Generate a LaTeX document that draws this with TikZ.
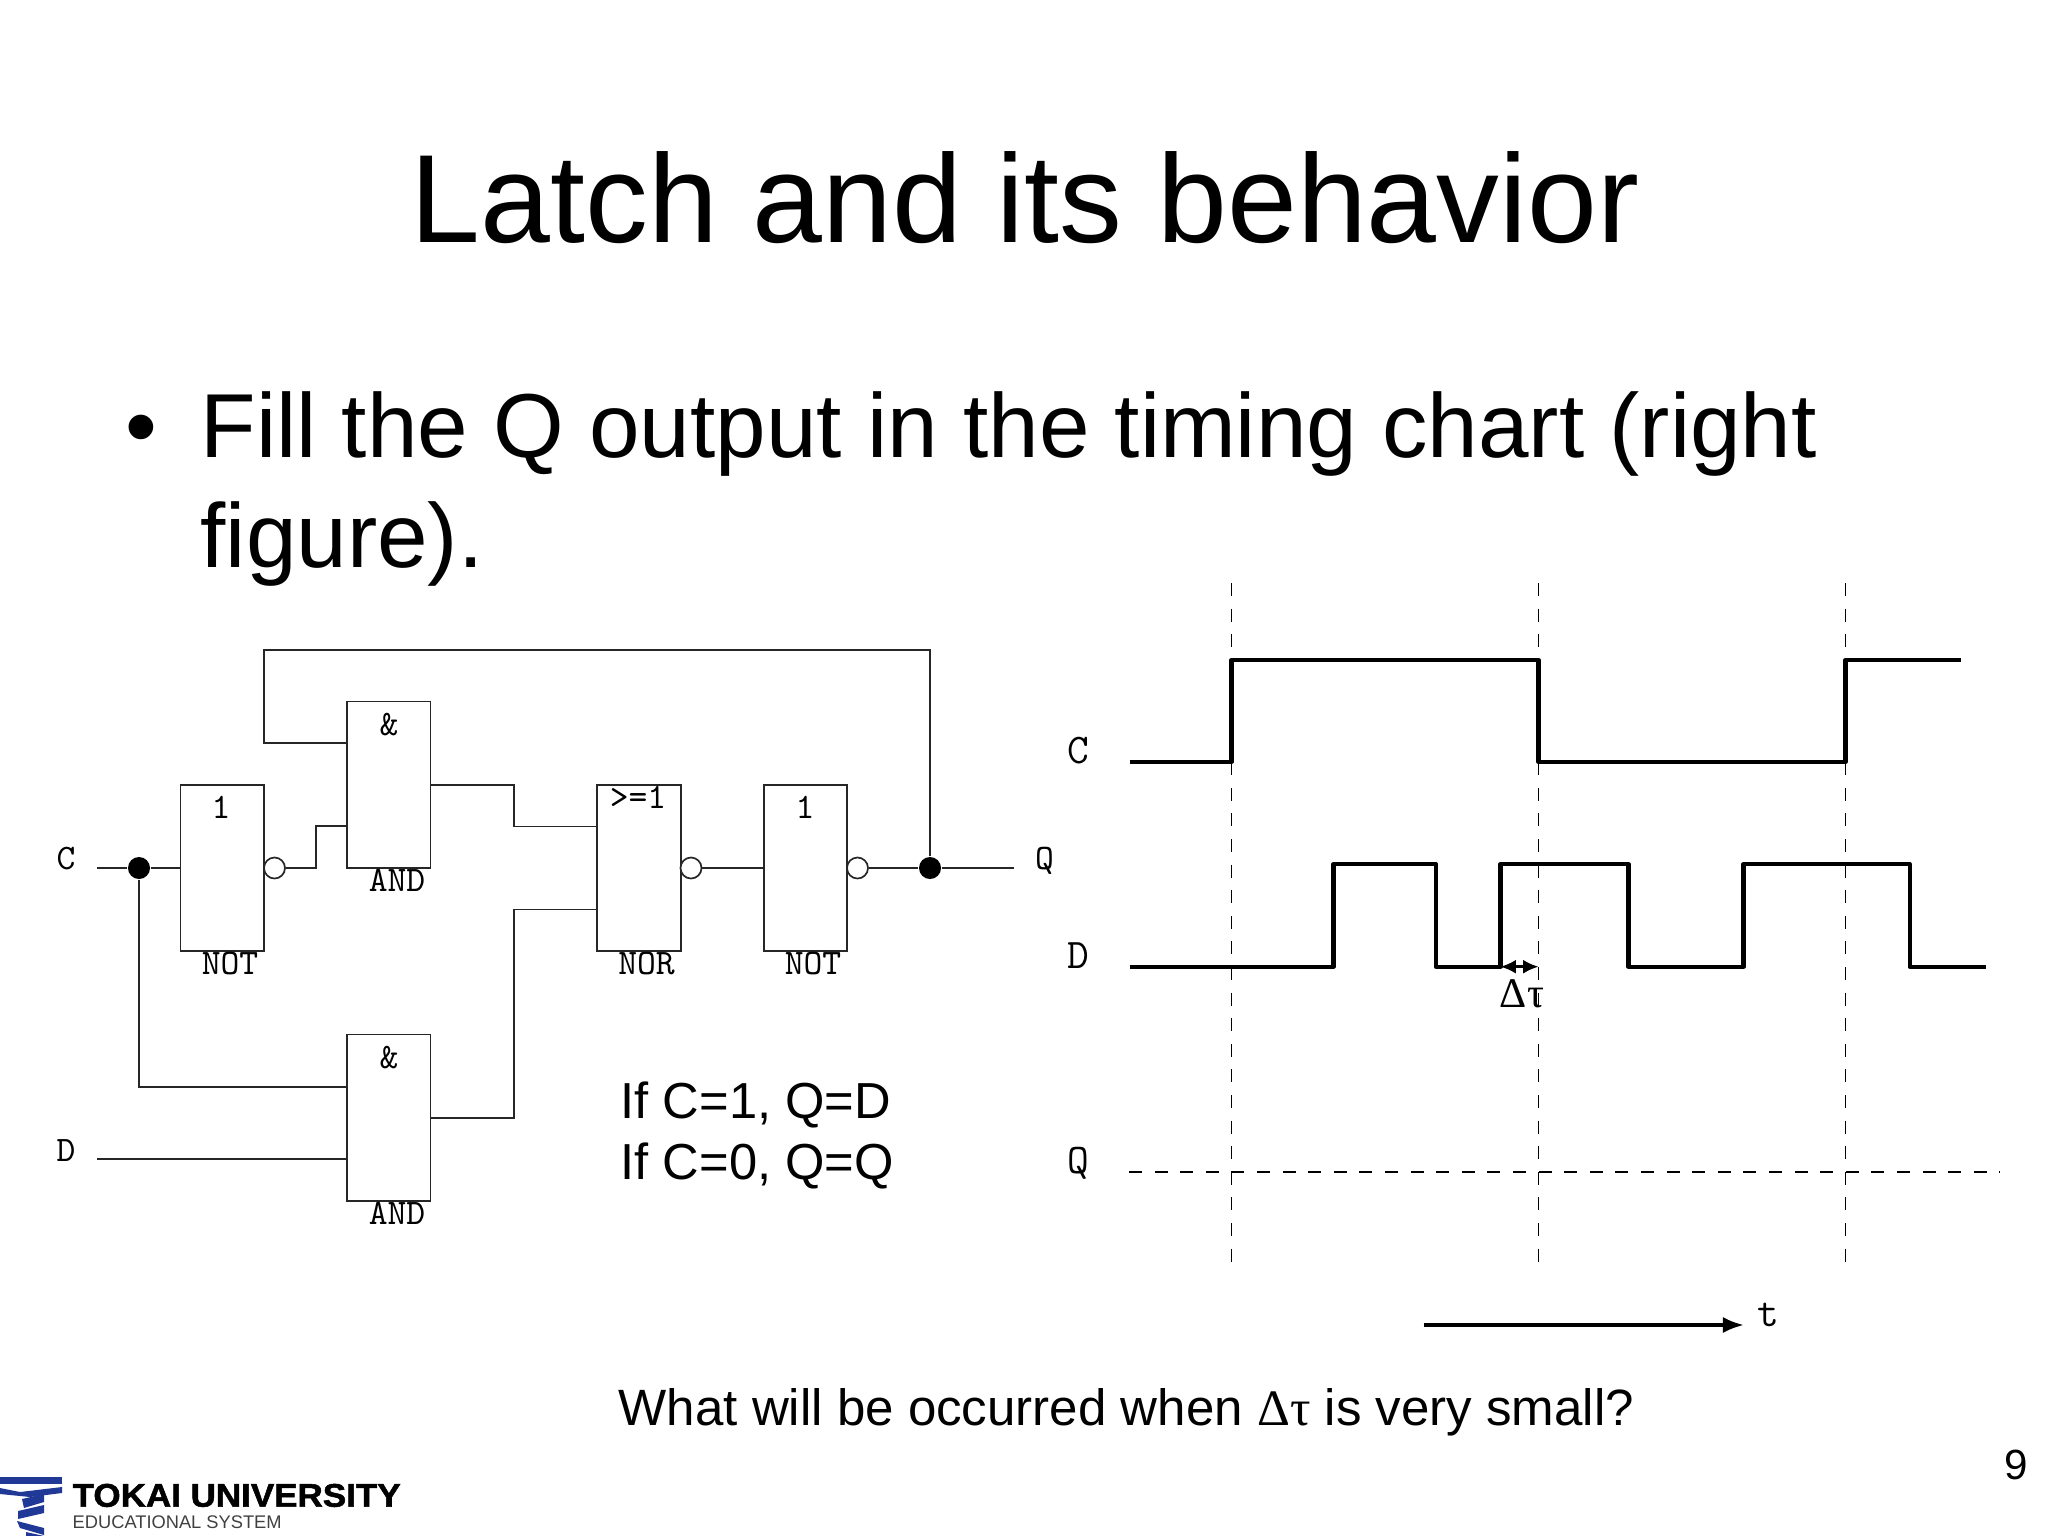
\documentclass[tikz,border=0pt]{standalone}
\usepackage{fontspec}
\setmainfont{Liberation Sans}
\newfontfamily\greekfont{Liberation Serif}
\newfontfamily\logofont[FakeBold=1.6,FakeStretch=1.07,UprightFont=* Bold]{Liberation Sans}
\usepackage{tikz}
\usetikzlibrary{arrows.meta,calc}
\definecolor{logoblue}{RGB}{32,56,150}
\tikzset{
  wire/.style={line width=0.48pt,draw=black!85},
  gatebox/.style={draw=black!85,line width=0.48pt,fill=white,minimum width=0.835cm,minimum height=1.665cm,inner sep=0pt},
  bubble/.style={circle,draw=black!85,line width=0.48pt,fill=white,minimum size=0.21cm,inner sep=0pt},
  joint/.style={circle,fill=black,minimum size=0.22cm,inner sep=0pt},
  gatetext/.style={font=\ttfamily\fontsize{10.2}{11}\selectfont,inner sep=0pt},
  chartlabel/.style={font=\ttfamily\fontsize{12}{13}\selectfont,inner sep=0pt},
  wave/.style={line width=1.15pt,line join=round},
  guide/.style={line width=0.48pt,dash pattern=on 3.7pt off 3.58pt},
  slidetext/.style={inner sep=0pt,anchor=base west}
}
\begin{document}
\begin{tikzpicture}[x=0.01cm,y=-0.01cm]
\useasboundingbox (0,0) rectangle (2048,1536);

% Title and bullet
\node[inner sep=0pt,anchor=base,font=\fontsize{35.7}{40}\selectfont] (title) at (1025,242.5) {Latch and its behavior};
\node[inner sep=0pt,anchor=base,font=\fontsize{25.8}{30}\selectfont] (bullet) at (141,457) {•};
\node[slidetext,font=\fontsize{25.84}{30}\selectfont] (fillA) at (200,457) {Fill the Q output in the timing chart (right};
\node[slidetext,font=\fontsize{25.84}{30}\selectfont] (fillB) at (200,567) {figure).};

% Gates
\node[gatebox] (notA) at (222.3,868) {};
\node[gatebox] (andA) at (388.7,784.7) {};
\node[gatebox] (andB) at (388.7,1117.7) {};
\node[gatebox] (norA) at (639,868) {};
\node[gatebox] (notB) at (805.5,868) {};

% Gate texts
\node[gatetext] (notAsym) at (221,807) {1};
\node[gatetext] (notAname) at (230,964) {NOT};
\node[gatetext] (andAsym) at (389,725) {\&};
\node[gatetext] (andAname) at (397,880) {AND};
\node[gatetext] (andBsym) at (389,1058) {\&};
\node[gatetext] (andBname) at (397,1213) {AND};
\node[gatetext] (norAsym) at (638,797) {>=1};
\node[gatetext] (norAname) at (646.5,964) {NOR};
\node[gatetext] (notBsym) at (805,807) {1};
\node[gatetext] (notBname) at (813,964) {NOT};
\node[gatetext] (cIn) at (66,859) {C};
\node[gatetext] (dIn) at (66,1151) {D};
\node[gatetext] (qOut) at (1044.5,861) {Q};

% Bubbles and joints
\node[bubble] (notAbub) at (274.5,868) {};
\node[bubble] (norAbub) at (691,868) {};
\node[bubble] (notBbub) at (857.5,868) {};
\node[joint] (cJoint) at (139,868) {};
\node[joint] (qJoint) at (930,868) {};

% Free ends
\coordinate (cStart) at (97,868);
\coordinate (dStart) at (97,1159.3);
\coordinate (qEnd) at (1014,868);
\coordinate (andAtop) at ($(andA.west)+(0,-41.5)$);
\coordinate (andAlow) at ($(andA.west)+(0,41.5)$);
\coordinate (andBtop) at ($(andB.west)+(0,-31)$);
\coordinate (andBlow) at ($(andB.west)+(0,41.6)$);
\coordinate (norAtop) at ($(norA.west)+(0,-41.5)$);
\coordinate (norAlow) at ($(norA.west)+(0,41.5)$);

% Wires
\draw[wire] (cStart) -- (cJoint) -- (notA.west);
\draw[wire] (notAbub) -- (316,868) |- (andAlow);
\draw[wire] (andA.east) -- (514,784.7) |- (norAtop);
\draw[wire] (andB.east) -- (514,1117.7) |- (norAlow);
\draw[wire] (norAbub) -- (notB.west);
\draw[wire] (notBbub) -- (qJoint) -- (qEnd);
\draw[wire] (qJoint) -- (930,650) -| (264,743.2) -- (andAtop);
\draw[wire] (cJoint) |- (andBtop);
\draw[wire] (dStart) -- (andBlow);

% Side note
\node[slidetext,font=\fontsize{14.4}{18}\selectfont] (noteA) at (620,1118) {If C=1, Q=D};
\node[slidetext,font=\fontsize{14.4}{18}\selectfont] (noteB) at (620,1179) {If C=0, Q=Q};

% Timing chart
\foreach \x in {1231.5,1538.5,1845.5}
  \draw[guide] (\x,583) -- (\x,1262);
\draw[guide] (1129,1171.7) -- (1999.5,1171.7);
\draw[wave] (1129.5,762) -- (1231.5,762) -- (1231.5,660) -- (1538.5,660) -- (1538.5,762) -- (1845.5,762) -- (1845.5,660) -- (1961,660);
\draw[wave] (1129.5,966.7) -- (1333.5,966.7) -- (1333.5,864) -- (1436,864) -- (1436,966.7) -- (1500.5,966.7) -- (1500.5,864) -- (1628.5,864) -- (1628.5,966.7) -- (1743.5,966.7) -- (1743.5,864) -- (1909.5,864) -- (1909.5,966.7) -- (1986,966.7);
\node[chartlabel] (cLabel) at (1078,751) {C};
\node[chartlabel] (dLabel) at (1078,956) {D};
\node[chartlabel] (qLabel) at (1078,1163) {Q};

% Delta tau
\coordinate (tauL) at (1500.5,966.7);
\coordinate (tauR) at (1538.5,966.7);
\draw[line width=0.7pt,{Latex[length=4.4pt,width=4pt]}-{Latex[length=4.4pt,width=4pt]}] (tauL) -- (tauR);
\node[inner sep=0pt,font=\greekfont\fontsize{12}{14}\selectfont] (tauText) at (1522,994) {Δτ};

% Time arrow
\coordinate (timeL) at (1423.5,1325);
\coordinate (timeR) at (1744,1325);
\draw[line width=1.05pt,-{Latex[length=6pt,width=4.6pt]}] (timeL) -- (timeR);
\node[inner sep=0pt,font=\ttfamily\fontsize{12}{13}\selectfont] (timeText) at (1768,1315) {t};

% Question and page number
\node[slidetext,font=\fontsize{14.52}{18}\selectfont] (question) at (618,1425) {What will be occurred when {\greekfont Δτ} is very small?};
\node[inner sep=0pt,font=\fontsize{12}{14}\selectfont] (pageNo) at (2016,1465) {9};

% Logo
\fill[logoblue] (0,1477) rectangle (62,1483.5);
\fill[logoblue] (0,1488) -- (20,1492) -- (62,1487) -- (62,1493) -- (30,1497) -- (0,1494) -- cycle;
\fill[logoblue] (22,1499) -- (44,1494) -- (44,1502) -- (24,1508) -- cycle;
\fill[logoblue] (18,1511) -- (44,1505) -- (44,1513) -- (18,1519) -- cycle;
\fill[logoblue] (17,1521) -- (44,1528) -- (44,1535) -- (20,1528) -- cycle;
\fill[logoblue] (26,1532) -- (44,1536) -- (26,1536) -- cycle;
\node[inner sep=0pt,anchor=base west,font=\logofont\fontsize{9.3}{12}\selectfont] (logoA) at (72,1506.7) {TOKAI UNIVERSITY};
\node[inner sep=0pt,anchor=base west,text=black!75,font=\fontsize{5.2}{6}\selectfont] (logoB) at (72,1528) {EDUCATIONAL SYSTEM};
\end{tikzpicture}
\end{document}
